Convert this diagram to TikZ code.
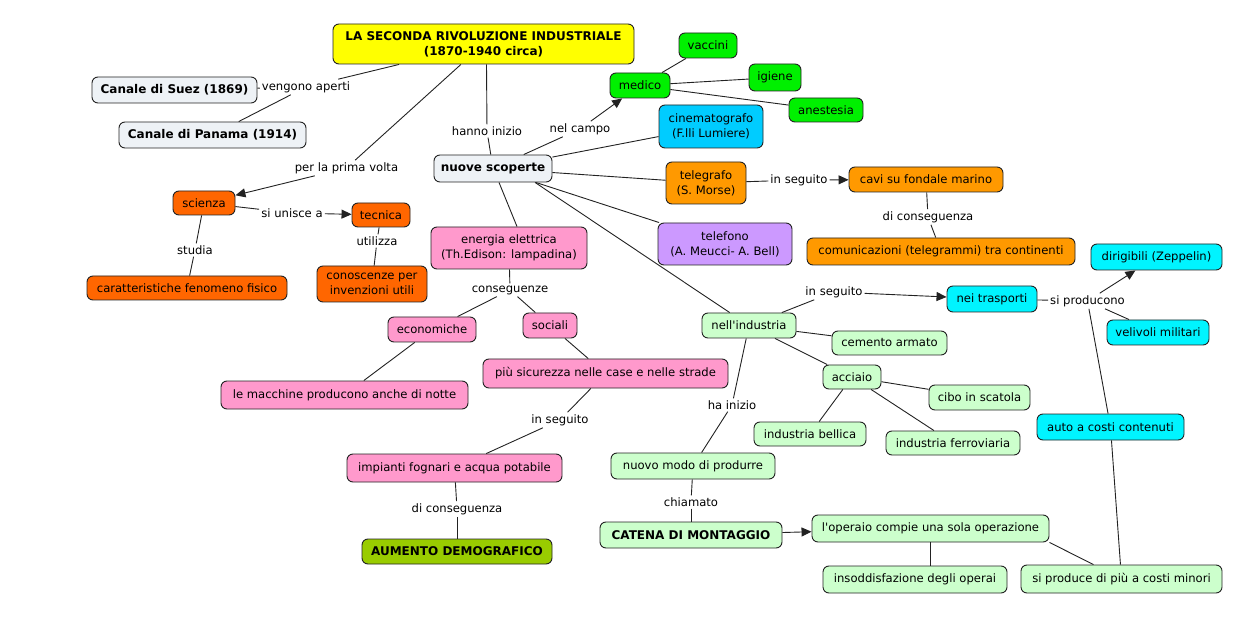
\documentclass[tikz,border=0pt]{standalone}
\usepackage{fontspec}
\setmainfont{DejaVu Sans}
\usetikzlibrary{arrows.meta}
\definecolor{cYel}{HTML}{FFFF00}
\definecolor{cGray}{HTML}{EEF2F6}
\definecolor{cDOr}{HTML}{FF6600}
\definecolor{cLOr}{HTML}{FF9900}
\definecolor{cPink}{HTML}{FF99CC}
\definecolor{cOlive}{HTML}{99CC00}
\definecolor{cGreen}{HTML}{00F000}
\definecolor{cBlue}{HTML}{00CCFF}
\definecolor{cPurp}{HTML}{CC99FF}
\definecolor{cLGr}{HTML}{CCFFCC}
\definecolor{cCyan}{HTML}{00F4FF}
\definecolor{cLine}{HTML}{222222}
\begin{document}
\begin{tikzpicture}[x=1pt,y=-1pt,
  font=\fontsize{11.6}{15}\selectfont,
  cbox/.style={draw=cLine, line width=0.9pt, rounded corners=6pt, inner sep=1pt, align=center},
  bbox/.style={cbox, font=\fontsize{12}{15}\selectfont\bfseries},
  lbl/.style={inner sep=2pt, align=center},
  ln/.style={draw=cLine, line width=0.9pt},
  arr/.style={ln, -{Triangle[length=10pt,width=9pt]}}
]
\useasboundingbox (0,0) rectangle (1240,620);

% ---------------- concepts ----------------
\node[bbox, fill=cYel, minimum width=301pt, minimum height=40pt] (t) at (483.5,44) {LA SECONDA RIVOLUZIONE INDUSTRIALE\\(1870-1940 circa)};
\node[bbox, fill=cGray, minimum width=165pt, minimum height=26pt] (suez) at (174.5,90) {Canale di Suez (1869)};
\node[bbox, fill=cGray, minimum width=187pt, minimum height=26pt] (pan) at (212.5,135) {Canale di Panama (1914)};
\node[bbox, fill=cGray, minimum width=118pt, minimum height=27pt] (ns) at (493,168.5) {nuove scoperte};

\node[cbox, fill=cDOr, minimum width=62pt, minimum height=24pt] (sci) at (204,203) {scienza};
\node[cbox, fill=cDOr, minimum width=58pt, minimum height=24pt] (tec) at (381,215) {tecnica};
\node[cbox, fill=cDOr, minimum width=200pt, minimum height=24pt] (car) at (187,288) {caratteristiche fenomeno fisico};
\node[cbox, fill=cDOr, minimum width=110pt, minimum height=36pt] (con) at (372,284) {conoscenze per\\invenzioni utili};

\node[cbox, fill=cPink, minimum width=156pt, minimum height=42pt] (ene) at (509,248) {energia elettrica\\(Th.Edison: lampadina)};
\node[cbox, fill=cPink, minimum width=88pt, minimum height=25pt] (eco) at (432,329.5) {economiche};
\node[cbox, fill=cPink, minimum width=54pt, minimum height=25pt] (soc) at (550,325.5) {sociali};
\node[cbox, fill=cPink, minimum width=247pt, minimum height=28pt] (mac) at (344.5,395) {le macchine producono anche di notte};
\node[cbox, fill=cPink, minimum width=245pt, minimum height=29pt] (sic) at (605.5,373.5) {più sicurezza nelle case e nelle strade};
\node[cbox, fill=cPink, minimum width=215pt, minimum height=28pt] (imp) at (454.5,468) {impianti fognari e acqua potabile};
\node[bbox, fill=cOlive, minimum width=190pt, minimum height=25pt] (aum) at (457,551.5) {AUMENTO DEMOGRAFICO};

\node[cbox, fill=cGreen, minimum width=60pt, minimum height=25pt] (med) at (640,85.5) {medico};
\node[cbox, fill=cGreen, minimum width=58pt, minimum height=25pt] (vac) at (708,45.5) {vaccini};
\node[cbox, fill=cGreen, minimum width=52pt, minimum height=27pt] (igi) at (775,77.5) {igiene};
\node[cbox, fill=cGreen, minimum width=74pt, minimum height=24pt] (ane) at (826,110) {anestesia};

\node[cbox, fill=cBlue, minimum width=104pt, minimum height=43pt] (cin) at (711,126.5) {cinematografo\\(F.lli Lumiere)};
\node[cbox, fill=cLOr, minimum width=80pt, minimum height=42pt] (tel) at (706,183) {telegrafo\\(S. Morse)};
\node[cbox, fill=cLOr, minimum width=154pt, minimum height=25pt] (cav) at (926,179.5) {cavi su fondale marino};
\node[cbox, fill=cLOr, minimum width=268pt, minimum height=27pt] (com) at (941,251.5) {comunicazioni (telegrammi) tra continenti};
\node[cbox, fill=cPurp, minimum width=134pt, minimum height=42pt] (tef) at (725,244) {telefono\\(A. Meucci- A. Bell)};

\node[cbox, fill=cLGr, minimum width=94pt, minimum height=25pt] (ind) at (749,325.5) {nell\textquotesingle industria};
\node[cbox, fill=cCyan, minimum width=90pt, minimum height=26pt] (tra) at (992,299) {nei trasporti};
\node[cbox, fill=cCyan, minimum width=131pt, minimum height=26pt] (dir) at (1156.5,257) {dirigibili (Zeppelin)};
\node[cbox, fill=cCyan, minimum width=102pt, minimum height=25pt] (vel) at (1158,332.5) {velivoli militari};
\node[cbox, fill=cCyan, minimum width=147pt, minimum height=26pt] (aut) at (1110.5,427) {auto a costi contenuti};

\node[cbox, fill=cLGr, minimum width=115pt, minimum height=24pt] (cem) at (889.5,343) {cemento armato};
\node[cbox, fill=cLGr, minimum width=58pt, minimum height=24pt] (acc) at (852,377) {acciaio};
\node[cbox, fill=cLGr, minimum width=101pt, minimum height=25pt] (cib) at (979.5,397.5) {cibo in scatola};
\node[cbox, fill=cLGr, minimum width=112pt, minimum height=24pt] (bel) at (810,434) {industria bellica};
\node[cbox, fill=cLGr, minimum width=134pt, minimum height=24pt] (fer) at (953,443) {industria ferroviaria};
\node[cbox, fill=cLGr, minimum width=164pt, minimum height=26pt] (nuo) at (693,466) {nuovo modo di produrre};
\node[bbox, fill=cLGr, minimum width=182pt, minimum height=26pt] (cat) at (691,535) {CATENA DI MONTAGGIO};
\node[cbox, fill=cLGr, minimum width=237pt, minimum height=27pt] (ope) at (930.5,528.5) {l\textquotesingle operaio compie una sola operazione};
\node[cbox, fill=cLGr, minimum width=184pt, minimum height=27pt] (ins) at (915,579.5) {insoddisfazione degli operai};
\node[cbox, fill=cLGr, minimum width=201pt, minimum height=28pt] (spr) at (1121.5,579) {si produce di più a costi minori};

% ---------------- linking phrases ----------------
\node[lbl] (la1) at (306,87) {vengono aperti};
\node[lbl] (la2) at (487,131) {hanno inizio};
\node[lbl] (la3) at (346.5,168) {per la prima volta};
\node[lbl] (la4) at (292,213) {si unisce a};
\node[lbl] (la5) at (195,250) {studia};
\node[lbl] (la6) at (377,241) {utilizza};
\node[lbl] (la7) at (510,290) {conseguenze};
\node[lbl] (la8) at (560,420) {in seguito};
\node[lbl] (la9) at (457,509) {di conseguenza};
\node[lbl] (la10) at (580,129) {nel campo};
\node[lbl] (la11) at (799,180) {in seguito};
\node[lbl] (la12) at (928,217) {di conseguenza};
\node[lbl] (la13) at (834,292) {in seguito};
\node[lbl] (la14) at (1087.5,301) {si producono};
\node[lbl] (la15) at (732,405) {ha inizio};
\node[lbl] (la16) at (691,502) {chiamato};

% ---------------- connectors ----------------
\draw[ln] (t) -- (la1);
\draw[ln] (la1) -- (suez);
\draw[ln] (la1) -- (pan);
\draw[ln] ([xshift=3pt]t.south) -- (la2);
\draw[ln] (la2) -- (ns);
\draw[ln] (t) -- (la3);
\draw[arr] (la3) -- (sci);
\draw[ln] (sci) -- (la4);
\draw[arr] (la4) -- (tec);
\draw[ln] (sci) -- (la5);
\draw[ln] (la5) -- (car);
\draw[ln] (tec) -- (la6);
\draw[ln] (la6) -- (con);

\draw[ln] (ns) -- (la10);
\draw[arr] (la10) -- (med);
\draw[ln] (med) -- (vac);
\draw[ln] (med) -- (igi);
\draw[ln] (med) -- (ane);
\draw[ln] (ns) -- (cin);
\draw[ln] (ns) -- (tel);
\draw[ln] (ns) -- (tef);
\draw[ln] ([xshift=42pt]ns.south) -- (ind);
\draw[ln] ([xshift=6pt]ns.south) -- ([xshift=8pt]ene.north);

\draw[ln] (tel) -- (la11);
\draw[arr] (la11) -- (cav);
\draw[ln] (cav) -- (la12);
\draw[ln] (la12) -- (com);

\draw[ln] (ene) -- (la7);
\draw[ln] (la7) -- (eco);
\draw[ln] (la7) -- (soc);
\draw[ln] (eco) -- (mac);
\draw[ln] (soc) -- (sic);
\draw[ln] (sic) -- (la8);
\draw[ln] (la8) -- (imp);
\draw[ln] (imp) -- (la9);
\draw[ln] (la9) -- (aum);

\draw[ln] (ind) -- (la13);
\draw[arr] (la13) -- (tra);
\draw[ln] (tra) -- (la14);
\draw[arr] (la14) -- (dir);
\draw[ln] (la14) -- (vel);
\draw[ln] (la14) -- (aut);
\draw[ln] (aut) -- (spr);

\draw[ln] (ind) -- (cem);
\draw[ln] (ind) -- (acc);
\draw[ln] (acc) -- (cib);
\draw[ln] (acc) -- (bel);
\draw[ln] (acc) -- (fer);
\draw[ln] (ind) -- (la15);
\draw[ln] (la15) -- (nuo);
\draw[ln] (nuo) -- (la16);
\draw[ln] (la16) -- (cat);
\draw[arr] (cat) -- (ope);
\draw[ln] (ope.south) -- (ope.south |- ins.north);
\draw[ln] (ope.south east) -- ([xshift=-28pt]spr.north);
\end{tikzpicture}
\end{document}
